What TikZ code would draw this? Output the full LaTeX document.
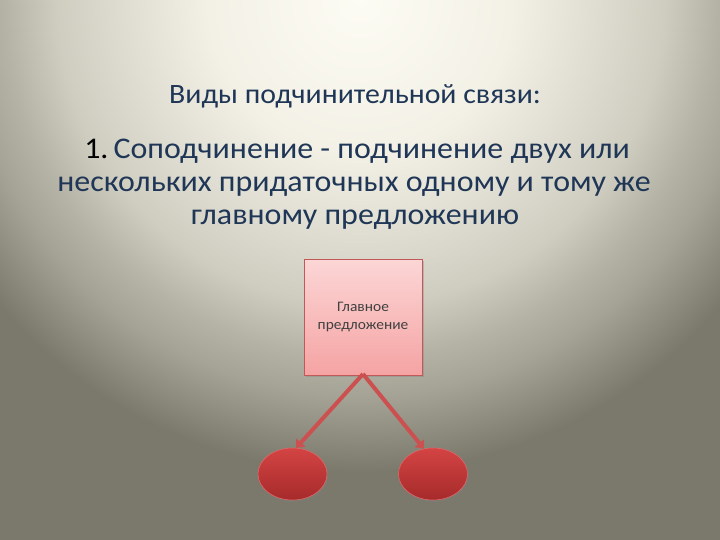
\documentclass[tikz,border=0pt]{standalone}
\usepackage{fontspec}
\setmainfont{Carlito}
\usetikzlibrary{arrows.meta,shadows,shapes.geometric}
\definecolor{bgdark}{HTML}{7B796B}
\definecolor{bgc1}{HTML}{FDFCF4}
\definecolor{bgc2}{HTML}{F3F1E6}
\definecolor{bgc3}{HTML}{CFCDC0}
\definecolor{bgc4}{HTML}{B5B3A5}
\definecolor{bgc5}{HTML}{A5A395}
\definecolor{txtblue}{HTML}{1F3656}
\definecolor{boxtop}{HTML}{FCD6D6}
\definecolor{boxbot}{HTML}{F5A3A3}
\definecolor{boxline}{HTML}{C05A5A}
\definecolor{linkred}{HTML}{CC5050}
\definecolor{ovaltop}{HTML}{D44444}
\definecolor{ovalbot}{HTML}{A62A2A}
\pgfdeclareradialshading{bgshade}{\pgfpoint{0bp}{0bp}}{color(0bp)=(bgc1); color(3.8bp)=(bgc2); color(7.6bp)=(bgc3); color(8.9bp)=(bgc4); color(9.9bp)=(bgc5); color(11.8bp)=(bgdark); color(50bp)=(bgdark)}
\tikzset{
  titletext/.style={font=\fontsize{28}{33}\selectfont, text=txtblue, align=center, xscale=1.065, transform shape, inner sep=0pt},
  maintext/.style={font=\fontsize{30}{35}\selectfont, text=txtblue, align=center, xscale=1.065, transform shape, inner sep=0pt},
  mainbox/.style={draw=boxline, line width=0.6pt, top color=boxtop, bottom color=boxbot,
    minimum width=118pt, minimum height=116pt, inner sep=0pt,
    drop shadow={shadow xshift=2pt, shadow yshift=-2pt, opacity=0.35}},
  boxtext/.style={font=\fontsize{14.5}{18}\selectfont, text=black!75, align=center, xscale=1.065, transform shape, inner sep=0pt},
  oval/.style={ellipse, draw=ovaltop!80!white, line width=0.6pt, top color=ovaltop, bottom color=ovalbot,
    minimum width=69pt, minimum height=52pt, inner sep=0pt,
    drop shadow={shadow xshift=1.5pt, shadow yshift=-2pt, opacity=0.3}},
  link/.style={draw=linkred, line width=4pt, -{Triangle[length=7pt,width=12pt]}}
}
\begin{document}
\begin{tikzpicture}[x=1pt,y=-1pt]
\useasboundingbox (0,0) rectangle (720,540);
\begin{scope}
\clip (0,0) rectangle (720,540);
\fill[bgdark] (0,0) rectangle (720,540);
\shade[shading=bgshade] (360,0) circle (1000);
\end{scope}
\node[titletext, anchor=base] (title) at (355,104) {Виды подчинительной связи:};
\node[maintext, anchor=base] (body1) at (357,159) {\textcolor{black}{1.}\kern-2pt\ Соподчинение - подчинение двух или};
\node[maintext, anchor=base] (body2) at (354,192) {нескольких придаточных одному и тому же};
\node[maintext, anchor=base] (body3) at (355,225) {главному предложению};
\node[mainbox] (main) at (363,317) {};
\node[boxtext] (maintxt) at (main.center) {Главное\\предложение};
\coordinate (src) at (363,374);
\node[oval] (left) at (292.5,474) {};
\node[oval] (right) at (433,474) {};
\draw[link] (src) -- (left.82);
\draw[link] (src) -- (right.110);
\end{tikzpicture}
\end{document}
